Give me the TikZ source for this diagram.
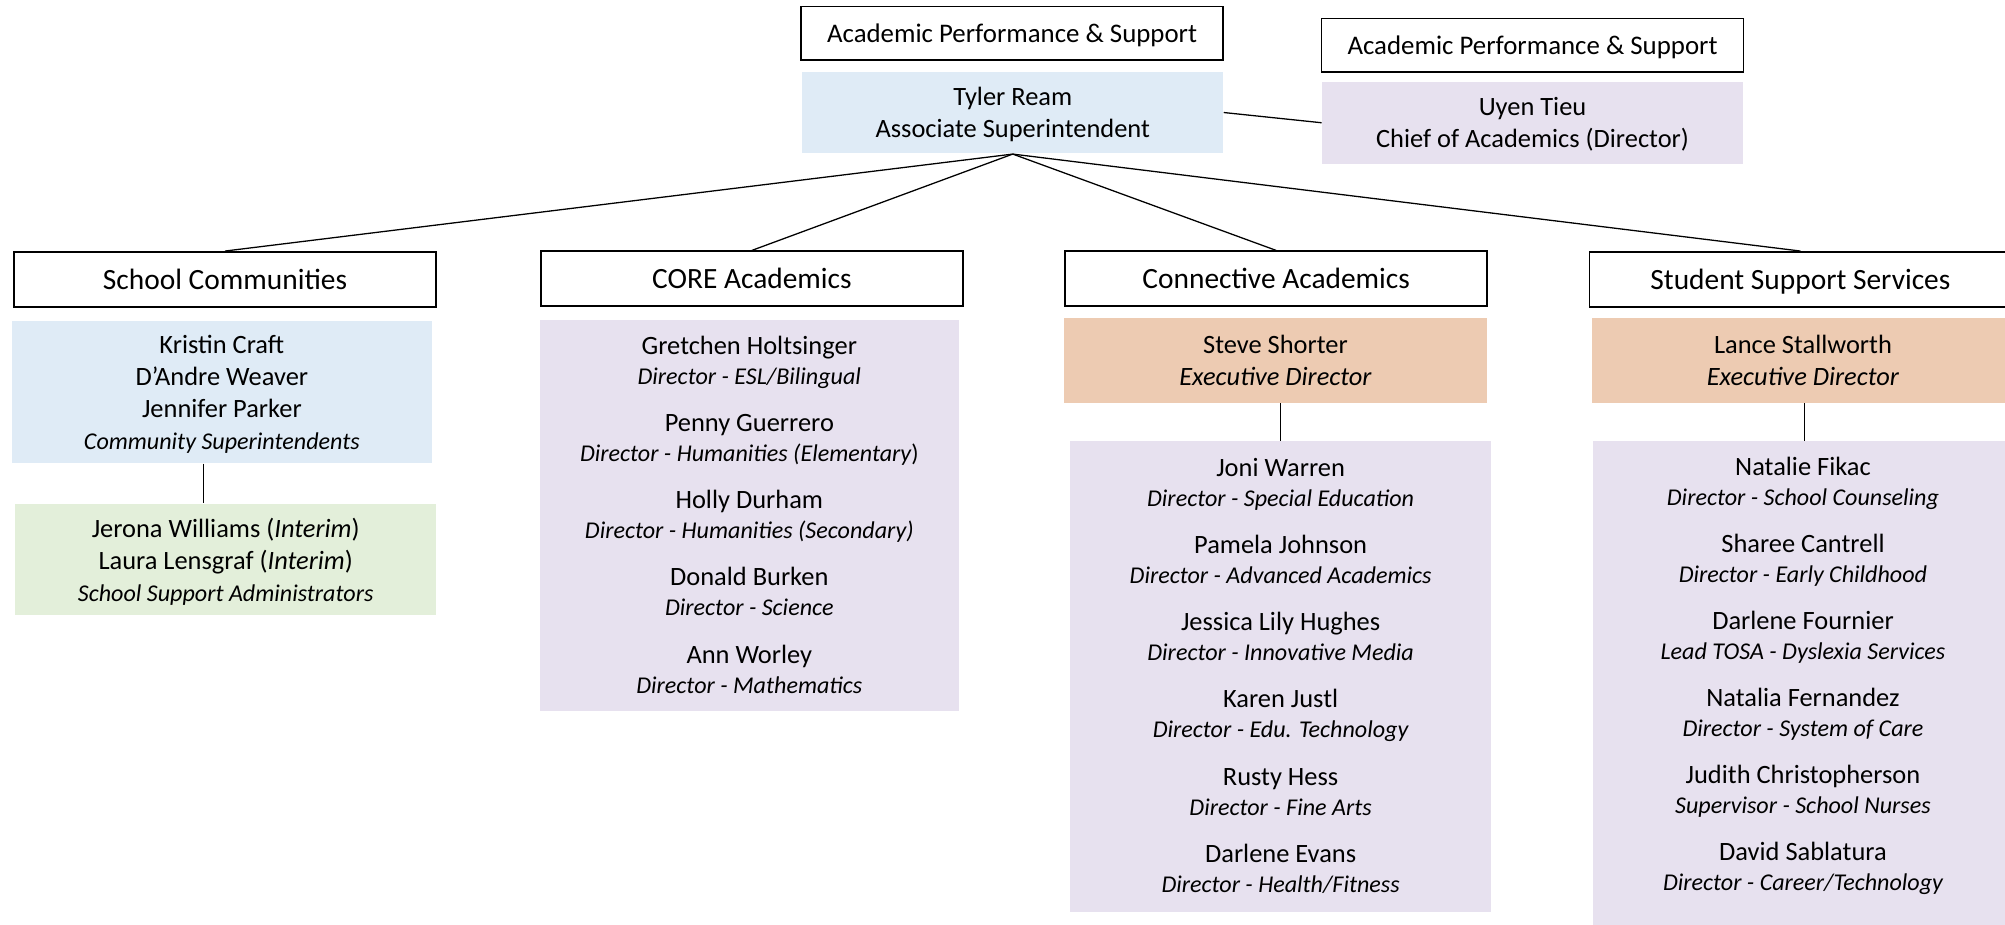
\documentclass[tikz,border=0pt]{standalone}
\usepackage{fontspec}
\setmainfont{Carlito}

\definecolor{deptblue}{HTML}{DFEBF6}
\definecolor{deptlav}{HTML}{E7E1EF}
\definecolor{deptgreen}{HTML}{E3EFDA}
\definecolor{deptpeach}{HTML}{EDCBB2}

\newcommand{\jobrole}[1]{{\fontsize{11.3}{14}\selectfont\itshape #1}}

\begin{document}
\begin{tikzpicture}[x=0.6pt, y=-0.6pt, line width=0.6pt]

    \tikzstyle{unit}=[draw=black, line width=0.8pt, fill=white, minimum width=198pt, minimum height=25.8pt, inner sep=0pt, text depth=0pt, font=\fontsize{13.8}{16}\selectfont]
    \tikzstyle{toptitle}=[unit, minimum height=25.2pt, font=\fontsize{12.6}{15}\selectfont]
    \tikzstyle{person}=[inner sep=0pt, minimum width=197.4pt, align=center, text depth=0pt, font=\fontsize{12.4}{15}\selectfont]
    \tikzstyle{names}=[inner sep=0pt, align=center, font=\fontsize{12.4}{14.1}\selectfont]

    \useasboundingbox (0,0) rectangle (1568,723);

    % top
    \node[toptitle] (aps)  at (791.5,26)   {Academic Performance \& Support};
    \node[person, fill=deptblue, minimum height=38.4pt] (ream) at (792,88) {Tyler Ream\\Associate Superintendent};
    \node[toptitle] (aps2) at (1198.5,35.5) {Academic Performance \& Support};
    \node[person, fill=deptlav, minimum height=38.4pt] (tieu) at (1198.5,96) {Uyen Tieu\\Chief of Academics (Director)};

    % departments
    \node[unit] (comm) at (176,218.5)  {School Communities};
    \node[unit] (core) at (588,218)    {CORE Academics};
    \node[unit] (conn) at (998,218)    {Connective Academics};
    \node[unit] (sss)  at (1408,218.5) {Student Support Services};

    % school communities
    \node[person, fill=deptblue, minimum height=66.6pt] (commbox) at (173.5,306.5)
        {Kristin Craft\\D'Andre Weaver\\Jennifer Parker\\\jobrole{Community Superintendents}};
    \node[person, fill=deptgreen, minimum height=52.2pt] (ssa) at (176.5,437.5)
        {Jerona Williams (\textit{Interim})\\Laura Lensgraf (\textit{Interim})\\\jobrole{School Support Administrators}};

    % core academics
    \node[person, fill=deptlav, minimum width=196.8pt, minimum height=183.6pt] (corebox) at (586,403) {};
    \node[names] (corelist) at (586,402.5)
        {Gretchen Holtsinger\\\jobrole{Director - ESL/Bilingual}\\[8pt]
         Penny Guerrero\\\jobrole{Director - Humanities (Elementary}{\fontsize{11.3}{14}\selectfont)}\\[8pt]
         Holly Durham\\\jobrole{Director - Humanities (Secondary)}\\[8pt]
         Donald Burken\\\jobrole{Director - Science}\\[8pt]
         Ann Worley\\\jobrole{Director - Mathematics}};

    % connective academics
    \node[person, fill=deptpeach, minimum width=198.6pt, minimum height=39.6pt] (shorter) at (997.5,282)
        {Steve Shorter\\\textit{Executive Director}};
    \node[person, fill=deptlav, minimum height=220.8pt] (connbox) at (1001.5,529) {};
    \node[names] (connlist) at (1001.5,528.5)
        {Joni Warren\\\jobrole{Director - Special Education}\\[8pt]
         Pamela Johnson\\\jobrole{Director - Advanced Academics}\\[8pt]
         Jessica Lily Hughes\\\jobrole{Director - Innovative Media}\\[8pt]
         Karen Justl\\\jobrole{Director - Edu. Technology}\\[8pt]
         Rusty Hess\\\jobrole{Director - Fine Arts}\\[8pt]
         Darlene Evans\\\jobrole{Director - Health/Fitness}};

    % student support services
    \node[person, fill=deptpeach, minimum width=198pt, minimum height=39.6pt] (stallworth) at (1410,282)
        {Lance Stallworth\\\textit{Executive Director}};
    \node[person, fill=deptlav, minimum width=198pt, minimum height=231pt] (sssbox) at (1411,537.5) {};
    \node[names] (ssslist) at (1410,528.5)
        {Natalie Fikac\\\jobrole{Director - School Counseling}\\[8pt]
         Sharee Cantrell\\\jobrole{Director - Early Childhood}\\[8pt]
         Darlene Fournier\\\jobrole{Lead TOSA - Dyslexia Services}\\[8pt]
         Natalia Fernandez\\\jobrole{Director - System of Care}\\[8pt]
         Judith Christopherson\\\jobrole{Supervisor - School Nurses}\\[8pt]
         David Sablatura\\\jobrole{Director - Career/Technology}};

    % connectors
    \draw (ream.east) -- (tieu.west);
    \draw (ream.south) -- (comm.north);
    \draw (ream.south) -- (core.north);
    \draw (ream.south) -- (conn.north);
    \draw (ream.south) -- (sss.north);
    \draw ([xshift=-8.7pt]commbox.south) -- ([xshift=-8.7pt]commbox.south |- ssa.north);
    \draw (connbox.north |- shorter.south) -- (connbox.north);
    \draw (sssbox.north |- stallworth.south) -- (sssbox.north);

\end{tikzpicture}
\end{document}
